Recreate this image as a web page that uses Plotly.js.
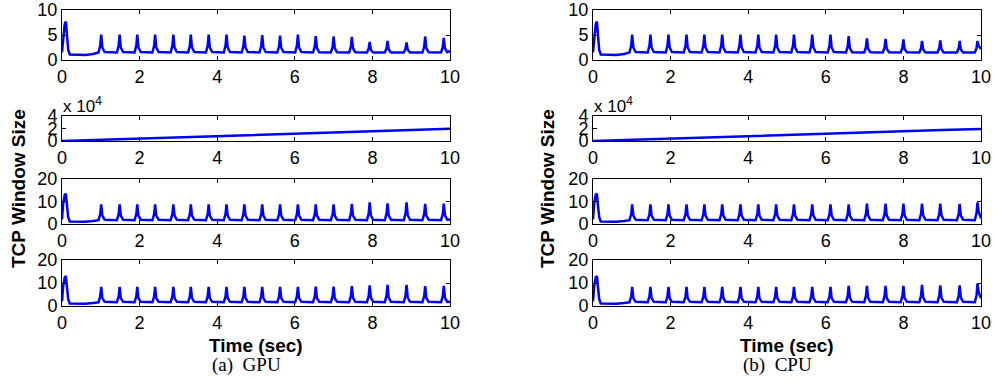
<!DOCTYPE html>
<html>
<head>
<meta charset="utf-8">
<script src="https://cdn.plot.ly/plotly-3.0.1.min.js"></script>
<style>html,body{margin:0;padding:0;background:#fff;}#chart{width:995px;height:381px;}</style>
</head>
<body>
<div id="chart"></div>
<script>
// ---------- DATA ----------
// GPU time samples (sec)
var timeGPU = [0, 0.03, 0.07, 0.1, 0.13, 0.16, 0.2, 0.4, 0.6, 0.8,
  0.94, 0.985, 1.01, 1.04, 1.10,
  1.415, 1.46, 1.485, 1.515, 1.575,
  1.87, 1.915, 1.94, 1.97, 2.03,
  2.33, 2.375, 2.40, 2.43, 2.49,
  2.80, 2.845, 2.87, 2.90, 2.96,
  3.25, 3.295, 3.32, 3.35, 3.41,
  3.71, 3.755, 3.78, 3.81, 3.87,
  4.17, 4.215, 4.24, 4.27, 4.33,
  4.63, 4.675, 4.70, 4.73, 4.79,
  5.09, 5.135, 5.16, 5.19, 5.25,
  5.55, 5.595, 5.62, 5.65, 5.71,
  6.01, 6.055, 6.08, 6.11, 6.17,
  6.47, 6.515, 6.54, 6.57, 6.63,
  6.93, 6.975, 7.00, 7.03, 7.09,
  7.40, 7.445, 7.47, 7.50, 7.56,
  7.86, 7.905, 7.93, 7.96, 8.02,
  8.32, 8.365, 8.39, 8.42, 8.48,
  8.81, 8.855, 8.88, 8.91, 8.97,
  9.29, 9.335, 9.36, 9.39, 9.45,
  9.77, 9.815, 9.84, 9.87, 9.93,
  10.0];

var gpuFlow1 = [1.5, 4.8, 7.2, 7.7, 5.0, 2.0, 1.1, 1.0, 1.0, 1.2,
  1.5, 2.9, 5.1, 2.5, 1.6,
  1.5, 2.9, 5.1, 2.5, 1.6,
  1.5, 2.9, 5.1, 2.5, 1.6,
  1.5, 2.9, 5.1, 2.5, 1.6,
  1.5, 2.9, 5.1, 2.5, 1.6,
  1.5, 2.9, 5.1, 2.5, 1.6,
  1.5, 2.9, 5.1, 2.5, 1.6,
  1.5, 2.9, 5.1, 2.5, 1.6,
  1.5, 2.8, 4.9, 2.45, 1.6,
  1.5, 2.85, 5.0, 2.5, 1.6,
  1.5, 2.8, 4.9, 2.45, 1.6,
  1.5, 2.9, 5.1, 2.5, 1.6,
  1.5, 2.75, 4.8, 2.4, 1.55,
  1.5, 2.7, 4.7, 2.4, 1.55,
  1.5, 2.7, 4.6, 2.35, 1.55,
  1.5, 2.3, 3.6, 2.05, 1.5,
  1.5, 2.35, 3.8, 2.1, 1.5,
  1.5, 2.25, 3.5, 2.05, 1.5,
  1.5, 2.7, 4.7, 2.4, 1.55,
  1.5, 2.6, 4.4, 2.3, 1.55,
  1.8];

var gpuFlow3 = [2.0, 9.0, 13.0, 13.5, 8.0, 3.0, 1.1, 1.0, 1.0, 1.3,
  1.7, 4.4, 8.7, 3.7, 1.9,
  1.7, 4.4, 8.7, 3.7, 1.9,
  1.7, 4.4, 8.7, 3.7, 1.9,
  1.7, 4.4, 8.7, 3.7, 1.9,
  1.7, 4.4, 8.7, 3.7, 1.9,
  1.7, 4.4, 8.7, 3.7, 1.9,
  1.7, 4.4, 8.7, 3.7, 1.9,
  1.7, 4.4, 8.7, 3.7, 1.9,
  1.7, 4.4, 8.7, 3.7, 1.9,
  1.7, 4.4, 8.7, 3.7, 1.9,
  1.7, 4.4, 8.7, 3.7, 1.9,
  1.7, 4.4, 8.7, 3.7, 1.9,
  1.7, 4.4, 8.7, 3.7, 1.9,
  1.7, 4.4, 8.7, 3.7, 1.9,
  1.7, 4.5, 9.0, 3.75, 1.9,
  1.7, 4.75, 9.6, 3.9, 1.9,
  1.7, 4.6, 9.2, 3.8, 1.9,
  1.7, 4.75, 9.6, 3.9, 1.9,
  1.7, 4.5, 8.9, 3.7, 1.9,
  1.7, 4.55, 9.1, 3.8, 1.9,
  2.0];

var gpuFlow4 = [2.0, 8.5, 12.5, 13.0, 8.0, 3.0, 1.1, 1.0, 1.0, 1.3,
  1.6, 4.2, 8.3, 3.4, 1.8,
  1.6, 4.2, 8.3, 3.4, 1.8,
  1.6, 4.2, 8.3, 3.4, 1.8,
  1.6, 4.2, 8.3, 3.4, 1.8,
  1.6, 4.2, 8.3, 3.4, 1.8,
  1.6, 4.2, 8.3, 3.4, 1.8,
  1.6, 4.2, 8.3, 3.4, 1.8,
  1.6, 4.2, 8.3, 3.4, 1.8,
  1.6, 4.2, 8.3, 3.4, 1.8,
  1.6, 4.2, 8.3, 3.4, 1.8,
  1.6, 4.2, 8.3, 3.4, 1.8,
  1.6, 4.2, 8.3, 3.4, 1.8,
  1.6, 4.3, 8.4, 3.45, 1.8,
  1.6, 4.3, 8.4, 3.45, 1.8,
  1.6, 4.3, 8.6, 3.5, 1.8,
  1.6, 4.5, 9.0, 3.6, 1.8,
  1.6, 4.6, 9.2, 3.7, 1.8,
  1.6, 4.6, 9.2, 3.7, 1.8,
  1.6, 4.3, 8.6, 3.5, 1.8,
  1.6, 4.4, 8.7, 3.5, 1.8,
  1.9];

// CPU time samples (sec)
var timeCPU = [0, 0.03, 0.07, 0.1, 0.13, 0.16, 0.2, 0.4, 0.6, 0.8,
  0.94, 0.985, 1.01, 1.04, 1.10,
  1.41, 1.455, 1.48, 1.51, 1.57,
  1.875, 1.92, 1.945, 1.975, 2.035,
  2.34, 2.385, 2.41, 2.44, 2.50,
  2.80, 2.845, 2.87, 2.90, 2.96,
  3.26, 3.305, 3.33, 3.36, 3.42,
  3.73, 3.775, 3.80, 3.83, 3.89,
  4.19, 4.235, 4.26, 4.29, 4.35,
  4.65, 4.695, 4.72, 4.75, 4.81,
  5.11, 5.155, 5.18, 5.21, 5.27,
  5.58, 5.625, 5.65, 5.68, 5.74,
  6.05, 6.095, 6.12, 6.15, 6.21,
  6.52, 6.565, 6.59, 6.62, 6.68,
  6.99, 7.035, 7.06, 7.09, 7.15,
  7.47, 7.515, 7.54, 7.57, 7.63,
  7.93, 7.975, 8.00, 8.03, 8.09,
  8.41, 8.455, 8.48, 8.51, 8.57,
  8.88, 8.925, 8.95, 8.98, 9.04,
  9.38, 9.425, 9.45, 9.48, 9.54,
  9.84, 9.885, 9.91, 9.94, 10.0];

var cpuFlow1 = [1.5, 4.8, 7.2, 7.7, 5.0, 2.0, 1.1, 1.0, 1.0, 1.2,
  1.5, 2.9, 5.1, 2.5, 1.6,
  1.5, 2.9, 5.1, 2.5, 1.6,
  1.5, 2.9, 5.1, 2.5, 1.6,
  1.5, 2.9, 5.1, 2.5, 1.6,
  1.5, 2.9, 5.1, 2.5, 1.6,
  1.5, 2.9, 5.1, 2.5, 1.6,
  1.5, 2.9, 5.1, 2.5, 1.6,
  1.5, 2.9, 5.1, 2.5, 1.6,
  1.5, 2.9, 5.1, 2.5, 1.6,
  1.5, 2.9, 5.1, 2.5, 1.6,
  1.5, 2.9, 5.1, 2.5, 1.6,
  1.5, 2.9, 5.1, 2.5, 1.6,
  1.5, 2.75, 4.8, 2.4, 1.55,
  1.5, 2.55, 4.3, 2.25, 1.55,
  1.5, 2.5, 4.2, 2.25, 1.55,
  1.5, 2.5, 4.1, 2.2, 1.55,
  1.5, 2.35, 3.8, 2.1, 1.5,
  1.5, 2.4, 3.9, 2.15, 1.5,
  1.5, 2.35, 3.8, 2.1, 1.5,
  1.5, 2.35, 3.8, 2.8, 2.2];

var cpuFlow3 = [2.0, 9.0, 13.0, 13.5, 8.0, 3.0, 1.1, 1.0, 1.0, 1.3,
  1.7, 4.4, 8.7, 3.7, 1.9,
  1.7, 4.4, 8.7, 3.7, 1.9,
  1.7, 4.4, 8.7, 3.7, 1.9,
  1.7, 4.4, 8.7, 3.7, 1.9,
  1.7, 4.4, 8.7, 3.7, 1.9,
  1.7, 4.4, 8.7, 3.7, 1.9,
  1.7, 4.4, 8.7, 3.7, 1.9,
  1.7, 4.4, 8.7, 3.7, 1.9,
  1.7, 4.4, 8.7, 3.7, 1.9,
  1.7, 4.4, 8.7, 3.7, 1.9,
  1.7, 4.4, 8.7, 3.7, 1.9,
  1.7, 4.4, 8.7, 3.7, 1.9,
  1.7, 4.4, 8.7, 3.7, 1.9,
  1.7, 4.55, 9.1, 3.8, 1.9,
  1.7, 4.55, 9.1, 3.8, 1.9,
  1.7, 4.55, 9.1, 3.8, 1.9,
  1.7, 4.55, 9.1, 3.8, 1.9,
  1.7, 4.55, 9.1, 3.8, 1.9,
  1.7, 4.5, 9.0, 3.75, 1.9,
  1.7, 4.75, 9.6, 5.5, 2.5];

var cpuFlow4 = [2.0, 8.5, 12.5, 13.0, 8.0, 3.0, 1.1, 1.0, 1.0, 1.3,
  1.6, 4.2, 8.3, 3.4, 1.8,
  1.6, 4.2, 8.3, 3.4, 1.8,
  1.6, 4.2, 8.3, 3.4, 1.8,
  1.6, 4.2, 8.3, 3.4, 1.8,
  1.6, 4.2, 8.3, 3.4, 1.8,
  1.6, 4.2, 8.3, 3.4, 1.8,
  1.6, 4.2, 8.3, 3.4, 1.8,
  1.6, 4.2, 8.3, 3.4, 1.8,
  1.6, 4.2, 8.3, 3.4, 1.8,
  1.6, 4.2, 8.3, 3.4, 1.8,
  1.6, 4.2, 8.3, 3.4, 1.8,
  1.6, 4.2, 8.3, 3.4, 1.8,
  1.6, 4.4, 8.7, 3.5, 1.8,
  1.6, 4.45, 8.8, 3.55, 1.8,
  1.6, 4.45, 8.8, 3.55, 1.8,
  1.6, 4.45, 8.8, 3.55, 1.8,
  1.6, 4.6, 9.2, 3.7, 1.8,
  1.6, 4.5, 9.0, 3.6, 1.8,
  1.6, 4.5, 9.0, 3.6, 1.8,
  1.6, 4.7, 9.7, 6.0, 3.3];

// second flow: slowly growing window (raw units, axis shown x 10^4)
var timeSlow = [0, 1, 2, 3, 4, 5, 6, 7, 8, 9, 10];
var gpuFlow2 = [0, 1800, 3700, 5700, 7600, 9600, 11500, 13500, 15500, 17500, 19500];
var cpuFlow2 = [0, 1800, 3700, 5600, 7600, 9500, 11500, 13400, 15400, 17400, 19300];

var xTicks = [0, 2, 4, 6, 8, 10];
var yTicks1 = [0, 5, 10];
var yTicks2 = [0, 20000, 40000];
var yTickText2 = ['0', '2', '4'];
var yTicks34 = [0, 10, 20];

var yTitle = 'TCP Window Size';
var xTitle = 'Time (sec)';
var captions = ['(a)  GPU', '(b)  CPU'];

// ---------- LAYOUT ----------
var W = 995, H = 381;
var colX = [[62 / W, 450 / W], [593 / W, 981 / W]];
var rowY = [[10, 60], [116, 141], [179, 224], [260, 306]];
function yd(r) { return [1 - r[1] / H, 1 - r[0] / H]; }

var sans = 'Liberation Sans, Arial, Helvetica, sans-serif';
var tickFont = {family: sans, size: 18, color: '#000'};

function xAxis(col, anchor) {
  return {domain: colX[col], range: [0, 10], tickvals: xTicks, ticks: 'inside', ticklen: 4,
    tickwidth: 1, tickcolor: '#000', showline: true, linecolor: '#000', linewidth: 1,
    mirror: 'ticks', showgrid: false, zeroline: false, tickfont: tickFont, anchor: anchor};
}
function yAxis(row, range, vals, text, anchor) {
  var a = {domain: yd(rowY[row]), range: range, tickvals: vals, ticks: 'inside', ticklen: 4,
    tickwidth: 1, tickcolor: '#000', showline: true, linecolor: '#000', linewidth: 1,
    mirror: 'ticks', showgrid: false, zeroline: false, tickfont: tickFont, anchor: anchor};
  if (text) a.ticktext = text;
  return a;
}

var lineStyle = {color: '#0000ff', width: 2.5};
var series = [
  [timeGPU, gpuFlow1], [timeSlow, gpuFlow2], [timeGPU, gpuFlow3], [timeGPU, gpuFlow4],
  [timeCPU, cpuFlow1], [timeSlow, cpuFlow2], [timeCPU, cpuFlow3], [timeCPU, cpuFlow4]
];
var traces = [];
var layout = {
  width: W, height: H, margin: {l: 0, r: 0, t: 0, b: 0},
  paper_bgcolor: '#fff', plot_bgcolor: '#fff', showlegend: false,
  annotations: []
};
var yRanges = [[0, 10], [0, 40000], [0, 20], [0, 20]];
var yVals = [yTicks1, yTicks2, yTicks34, yTicks34];
var yTexts = [null, yTickText2, null, null];

for (var i = 0; i < 8; i++) {
  var col = Math.floor(i / 4), row = i % 4, n = i + 1;
  var xs = n === 1 ? '' : String(n);
  traces.push({x: series[i][0], y: series[i][1], type: 'scatter', mode: 'lines',
    line: lineStyle, xaxis: 'x' + xs, yaxis: 'y' + xs, hoverinfo: 'skip'});
  layout['xaxis' + xs] = xAxis(col, 'y' + xs);
  layout['yaxis' + xs] = yAxis(row, yRanges[row], yVals[row], yTexts[row], 'x' + xs);
}

for (var c = 0; c < 2; c++) {
  var cx = (colX[c][0] + colX[c][1]) / 2;
  layout.annotations.push({xref: 'paper', yref: 'paper', x: colX[c][0] - 1 / W, y: 1 - 105 / H,
    xanchor: 'left', yanchor: 'middle', showarrow: false, text: 'x 10<sup>4</sup>',
    font: {family: sans, size: 17, color: '#000'}});
  layout.annotations.push({xref: 'paper', yref: 'paper', x: (c === 0 ? 18 : 547) / W, y: 1 - 189 / H,
    xanchor: 'center', yanchor: 'middle', showarrow: false, textangle: -90,
    text: '<b>' + yTitle + '</b>', font: {family: sans, size: 19, color: '#000'}});
  layout.annotations.push({xref: 'paper', yref: 'paper', x: cx, y: 1 - 345 / H,
    xanchor: 'center', yanchor: 'middle', showarrow: false,
    text: '<b>' + xTitle + '</b>', font: {family: sans, size: 19, color: '#000'}});
  layout.annotations.push({xref: 'paper', yref: 'paper', x: cx - 10 / W, y: 1 - 365 / H,
    xanchor: 'center', yanchor: 'middle', showarrow: false,
    text: captions[c], font: {family: 'Liberation Serif, Times New Roman, serif', size: 19, color: '#000'}});
}

Plotly.newPlot('chart', traces, layout, {displayModeBar: false, staticPlot: true});
</script>
</body>
</html>
